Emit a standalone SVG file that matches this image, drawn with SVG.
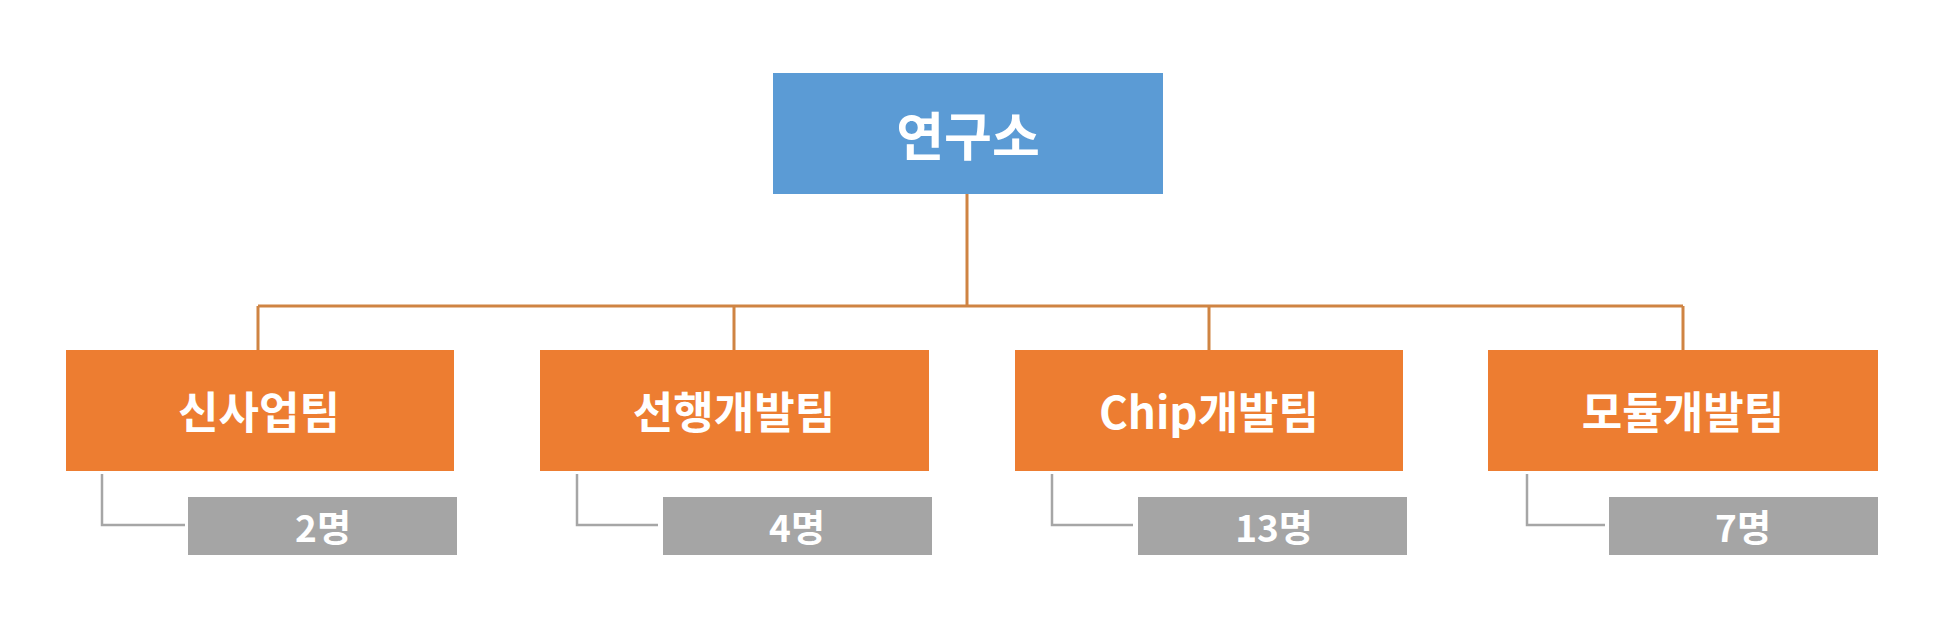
<svg xmlns="http://www.w3.org/2000/svg" width="1954" height="626" viewBox="0 0 1954 626">
<style>
text{font-family:"Noto Sans CJK KR","Liberation Sans",sans-serif;font-weight:bold;fill:#ffffff;text-anchor:middle;dominant-baseline:central}
.top{fill:#5B9BD5}
.team{fill:#ED7D31}
.cnt{fill:#A5A5A5}
.conn{stroke:#CF8443;stroke-width:3;fill:none}
.sub{stroke:#A6A6A6;stroke-width:2.5;fill:none}
.t1{font-size:52px}
.t2{font-size:44px}
.t3{font-size:37px}
</style>
<rect width="1954" height="626" fill="#ffffff"/>
<g id="connectors">
<path class="conn" d="M967 194V306M258 306H1683M258 306V350M734 306V350M1209 306V350M1683 306V350"/>
<path class="sub" d="M102 474V525H185M577 474V525H658M1052 474V525H1133M1527 474V525H1605"/>
</g>
<g id="node-lab"><rect class="top" x="773" y="73" width="390" height="121"/><text class="t1" x="968" y="133">연구소</text></g>
<g id="node-team1"><rect class="team" x="66" y="350" width="388" height="121"/><text class="t2" x="259" y="410">신사업팀</text></g>
<g id="node-team2"><rect class="team" x="540" y="350" width="389" height="121"/><text class="t2" x="734" y="410">선행개발팀</text></g>
<g id="node-team3"><rect class="team" x="1015" y="350" width="388" height="121"/><text class="t2" x="1209" y="410">Chip개발팀</text></g>
<g id="node-team4"><rect class="team" x="1488" y="350" width="390" height="121"/><text class="t2" x="1683" y="410">모듈개발팀</text></g>
<g id="node-cnt1"><rect class="cnt" x="188" y="497" width="269" height="58"/><text class="t3" x="323" y="526">2명</text></g>
<g id="node-cnt2"><rect class="cnt" x="663" y="497" width="269" height="58"/><text class="t3" x="797" y="526">4명</text></g>
<g id="node-cnt3"><rect class="cnt" x="1138" y="497" width="269" height="58"/><text class="t3" x="1274" y="526">13명</text></g>
<g id="node-cnt4"><rect class="cnt" x="1609" y="497" width="269" height="58"/><text class="t3" x="1743" y="526">7명</text></g>
</svg>
